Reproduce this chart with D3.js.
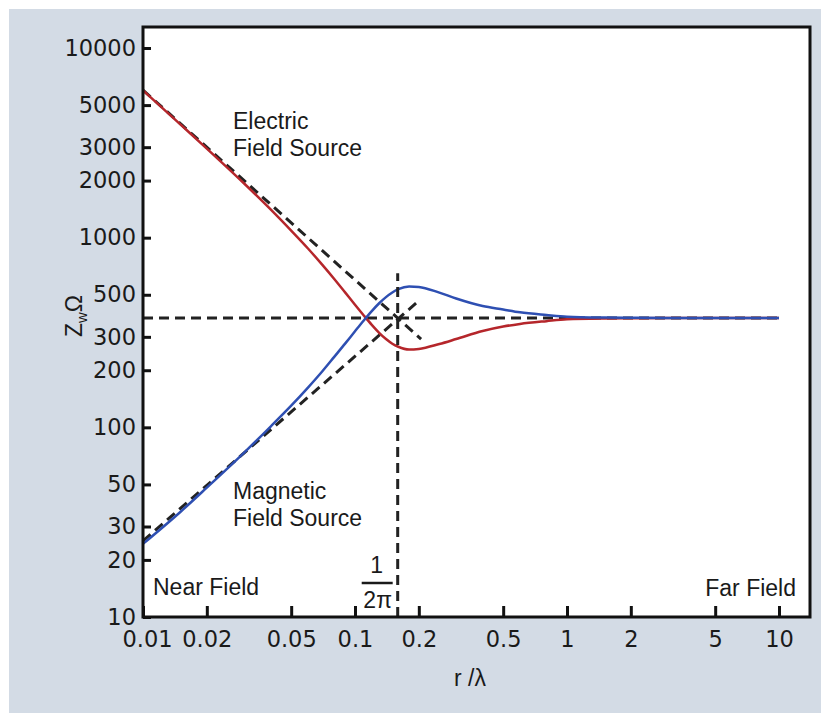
<!DOCTYPE html>
<html lang="en">
<head>
    <meta charset="UTF-8">
    <title>Wave impedance vs distance</title>
    <script src="https://d3js.org/d3.v7.min.js"></script>
    <style>
        body {
            margin: 0;
            padding: 0;
            background: #fff;
        }
        .tick text {
            font-family: "DejaVu Sans", sans-serif;
            font-size: 22.5px;
            fill: #1a1a1a;
        }
        .tick line {
            stroke: #111;
            stroke-width: 3px;
        }
        .label {
            font-family: "Liberation Sans", Arial, sans-serif;
            font-size: 23px;
            fill: #1a1a1a;
        }
        .dash {
            fill: none;
            stroke: #222;
            stroke-width: 3px;
            stroke-dasharray: 10,6;
        }
        .curve {
            fill: none;
            stroke-width: 2.5px;
        }
    </style>
</head>
<body>
    <svg id="chart" width="821" height="713"></svg>

    <script>
        // r / lambda sample points
        const rValues = [0.01, 0.015, 0.02, 0.03, 0.04, 0.05, 0.06, 0.07, 0.08, 0.09,
                         0.1, 0.11, 0.12, 0.13, 0.14, 0.15, 0.16, 0.18, 0.2, 0.25,
                         0.3, 0.4, 0.5, 0.6, 0.8, 1, 1.5, 2, 3, 5, 10];
        // wave impedance, electric field source (red)
        const electricZ = [5980, 3960, 2950, 1930, 1410, 1090, 877, 721, 604, 513,
                           443, 389, 347, 315, 292, 276, 266, 257, 259, 275,
                           292, 322, 340, 351, 363, 371, 375, 376, 377, 377, 377];
        // wave impedance, magnetic field source (blue)
        const magneticZ = [24.3, 35.8, 48.1, 73.6, 101, 130, 162, 197, 236, 277,
                           321, 366, 410, 451, 486, 514, 535, 553, 550, 513,
                           478, 436, 418, 404, 391, 383, 379, 378, 377, 377, 377];

        // dashed guide lines
        const electricAsym = [[0.01, 6000], [0.205, 292]];
        const magneticAsym = [[0.01, 25.2], [0.197, 458]];
        const freeSpace = [[0.01, 377], [10, 377]];
        const fracR = 0.159;
        const crossLine = [[fracR, 10], [fracR, 650]];

        const xTicks = [0.01, 0.02, 0.05, 0.1, 0.2, 0.5, 1, 2, 5, 10];
        const xTickLabels = ["0.01", "0.02", "0.05", "0.1", "0.2", "0.5", "1", "2", "5", "10"];
        const yTicks = [10, 20, 30, 50, 100, 200, 300, 500, 1000, 2000, 3000, 5000, 10000];

        const svg = d3.select("#chart");

        const plotLeft = 143, plotRight = 810, plotTop = 27, plotBottom = 617;

        const x = d3.scaleLog().domain([0.01, 10]).range([plotLeft, 779]);
        const y = d3.scaleLog().domain([10, 10000]).range([plotBottom, 48]);

        // backgrounds
        svg.append("rect")
            .attr("x", 9).attr("y", 9)
            .attr("width", 812).attr("height", 704)
            .attr("fill", "#d3dbe5");
        svg.append("rect")
            .attr("x", plotLeft).attr("y", plotTop)
            .attr("width", plotRight - plotLeft).attr("height", plotBottom - plotTop)
            .attr("fill", "#fff");

        const line = d3.line()
            .x(d => x(d[0]))
            .y(d => y(d[1]));

        const smooth = d3.line()
            .x(d => x(d[0]))
            .y(d => y(d[1]))
            .curve(d3.curveMonotoneX);

        // guides under curves
        svg.append("path").attr("class", "dash").attr("d", line(freeSpace));
        svg.append("path").attr("class", "dash").attr("d", line(electricAsym));
        svg.append("path").attr("class", "dash").attr("d", line(magneticAsym));

        svg.append("path")
            .attr("class", "curve")
            .attr("stroke", "#b5262b")
            .attr("d", smooth(rValues.map((r, i) => [r, electricZ[i]])));

        svg.append("path")
            .attr("class", "curve")
            .attr("stroke", "#2e4fb2")
            .attr("d", smooth(rValues.map((r, i) => [r, magneticZ[i]])));

        svg.append("path").attr("class", "dash").attr("d", line(crossLine));

        // axes
        const yAxis = d3.axisLeft(y)
            .tickValues(yTicks)
            .tickFormat(d3.format("d"))
            .tickSize(-8)
            .tickPadding(7);
        const gy = svg.append("g")
            .attr("transform", `translate(${plotLeft},0)`)
            .call(yAxis);
        gy.select(".domain").remove();

        const xAxis = d3.axisBottom(x)
            .tickValues(xTicks)
            .tickFormat((d, i) => xTickLabels[i])
            .tickSize(-11)
            .tickPadding(14);
        const gx = svg.append("g")
            .attr("transform", `translate(0,${plotBottom})`)
            .call(xAxis);
        gx.select(".domain").remove();
        gx.selectAll(".tick").filter(d => d === 0.01).select("text").attr("dx", 4);

        // frame
        svg.append("rect")
            .attr("x", plotLeft).attr("y", plotTop)
            .attr("width", plotRight - plotLeft).attr("height", plotBottom - plotTop)
            .attr("fill", "none")
            .attr("stroke", "#111")
            .attr("stroke-width", 3);

        // annotations
        const notes = [
            { t: "Electric", x: 233, y: 129 },
            { t: "Field Source", x: 233, y: 156 },
            { t: "Magnetic", x: 233, y: 499 },
            { t: "Field Source", x: 233, y: 526 },
            { t: "Near Field", x: 153, y: 595 }
        ];
        svg.selectAll(".note")
            .data(notes)
            .enter().append("text")
            .attr("class", "label")
            .attr("x", d => d.x)
            .attr("y", d => d.y)
            .text(d => d.t);

        svg.append("text")
            .attr("class", "label")
            .attr("x", 796).attr("y", 596)
            .attr("text-anchor", "end")
            .text("Far Field");

        // 1 / 2pi fraction
        const fx = x(fracR) - 21;
        svg.append("text")
            .attr("class", "label")
            .attr("x", fx).attr("y", 573)
            .attr("text-anchor", "middle")
            .text("1");
        svg.append("line")
            .attr("x1", fx - 15).attr("x2", fx + 16)
            .attr("y1", 583).attr("y2", 583)
            .attr("stroke", "#1a1a1a")
            .attr("stroke-width", 2.5);
        svg.append("text")
            .attr("class", "label")
            .attr("x", fx + 1).attr("y", 608)
            .attr("text-anchor", "middle")
            .text("2π");

        // axis titles
        svg.append("text")
            .attr("class", "label")
            .attr("x", 470).attr("y", 686)
            .attr("text-anchor", "middle")
            .text("r /λ");

        const yt = svg.append("text")
            .attr("class", "label")
            .attr("text-anchor", "middle")
            .attr("transform", "translate(82,316) rotate(-90)");
        yt.append("tspan").text("Z");
        yt.append("tspan").attr("dy", 5).style("font-size", "15px").text("w");
        yt.append("tspan").attr("dy", -5).text("Ω");
    </script>
</body>
</html>
